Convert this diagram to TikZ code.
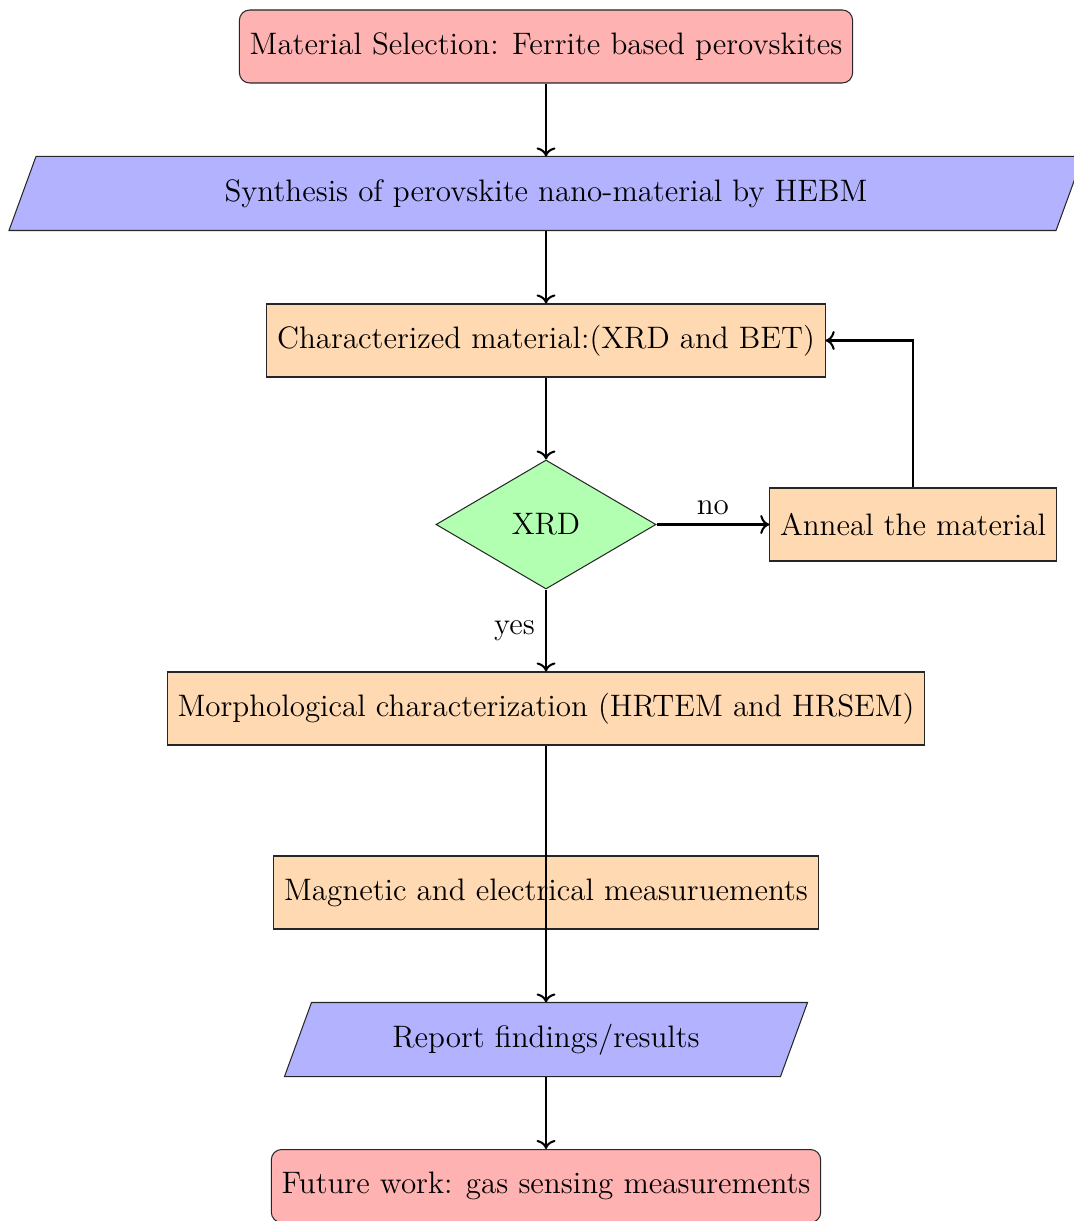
\documentclass[tikz,border=0pt]{standalone}
\usetikzlibrary{shapes.geometric,arrows.meta,backgrounds,calc}
\begin{document}
\begin{tikzpicture}[x=0.013699cm, y=-0.013699cm,
  base/.style={draw=black!85, thin, minimum height=73*0.013699cm, inner sep=4pt, font=\fontsize{12.1}{14}\selectfont},
  startstop/.style={base, rectangle, rounded corners=4pt, fill=red!30},
  io/.style={base, rectangle, draw=none},
  iobox/.style={draw=black!85, thin, fill=blue!30},
  process/.style={base, rectangle, fill=orange!30},
  decision/.style={base, diamond, fill=green!30, minimum width=220*0.013699cm, minimum height=129*0.013699cm, inner sep=0pt},
  arr/.style={thick, -{Computer Modern Rightarrow[scale=1.05]}},
  lbl/.style={font=\fontsize{12.1}{14}\selectfont, inner sep=2pt}]
\useasboundingbox (0,0) rectangle (1073,1221);
\node[startstop, minimum width=612*0.013699cm] (start) at (546,46.5) {Material Selection: Ferrite based perovskites};
\node[io, minimum width=1046*0.013699cm] (synth) at (546,193.5) {Synthesis of perovskite nano-material by HEBM};
\node[process, minimum width=558*0.013699cm] (char) at (546,340.5) {Characterized material:(XRD and BET)};
\node[decision] (xrd) at (546,524.5) {XRD};
\node[process, minimum width=286*0.013699cm] (anneal) at (913,524.5) {Anneal the material};
\node[process, minimum width=756*0.013699cm] (morph) at (546,708.5) {Morphological characterization (HRTEM and HRSEM)};
\node[process, minimum width=544*0.013699cm] (mag) at (546,892.5) {Magnetic and electrical measuruements};
\node[io, minimum width=495*0.013699cm] (report) at (546,1039.5) {Report findings/results};
\node[startstop, minimum width=548*0.013699cm] (future) at (546,1186) {Future work: gas sensing measurements};
\begin{scope}[on background layer]
  \foreach \n in {synth, report} {
    \draw[iobox] ($(\n.south west)+(-13.5,0)$) -- ($(\n.north west)+(13.5,0)$)
      -- ($(\n.north east)+(13.5,0)$) -- ($(\n.south east)+(-13.5,0)$) -- cycle;
  }
\end{scope}
\draw[arr] (start) -- (synth);
\draw[arr] (synth) -- (char);
\draw[arr] (char) -- (xrd);
\draw[arr] (xrd) -- node[lbl, above, yshift=1.5pt] {no} (anneal);
\draw[arr] (anneal.north) |- (char.east);
\draw[arr] (xrd) -- node[lbl, left, xshift=-2pt] {yes} (morph);
\draw[arr] (morph) -- (report);
\draw[arr] (report) -- (future);
\end{tikzpicture}
\end{document}
